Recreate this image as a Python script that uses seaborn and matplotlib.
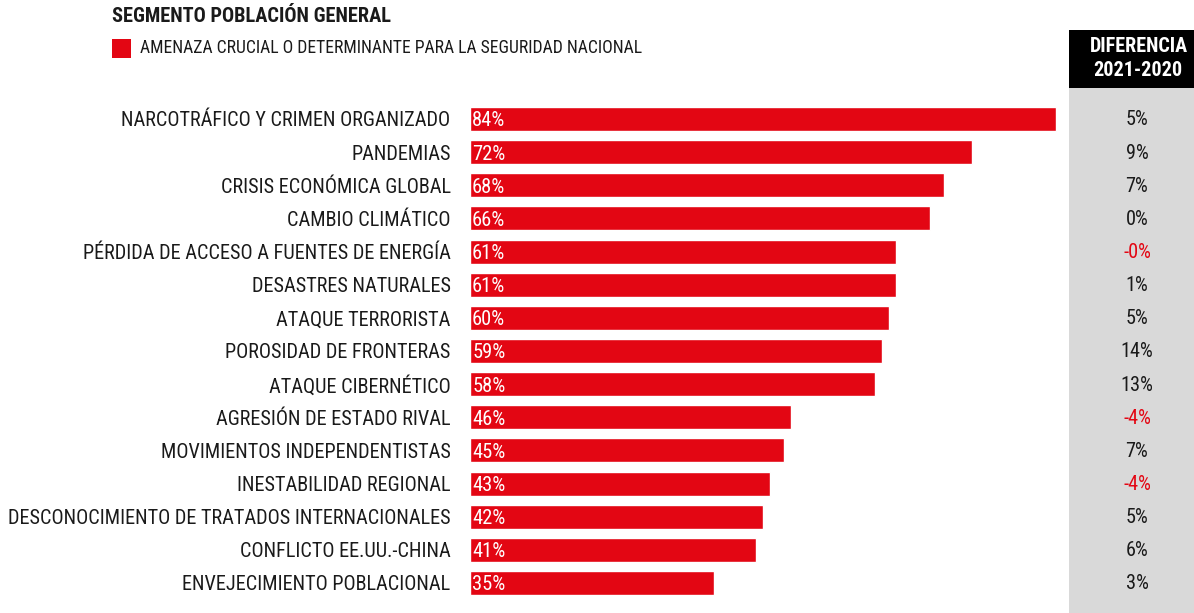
import matplotlib
matplotlib.use("Agg")
import matplotlib.pyplot as plt
import matplotlib.transforms as mtransforms
from matplotlib.patches import Rectangle
import seaborn as sns
import pandas as pd
from matplotlib import font_manager

categories = [
    "NARCOTRÁFICO Y CRIMEN ORGANIZADO", "PANDEMIAS", "CRISIS ECONÓMICA GLOBAL",
    "CAMBIO CLIMÁTICO", "PÉRDIDA DE ACCESO A FUENTES DE ENERGÍA", "DESASTRES NATURALES",
    "ATAQUE TERRORISTA", "POROSIDAD DE FRONTERAS", "ATAQUE CIBERNÉTICO",
    "AGRESIÓN DE ESTADO RIVAL", "MOVIMIENTOS INDEPENDENTISTAS", "INESTABILIDAD REGIONAL",
    "DESCONOCIMIENTO DE TRATADOS INTERNACIONALES", "CONFLICTO EE.UU.-CHINA",
    "ENVEJECIMIENTO POBLACIONAL",
]
values = [84, 72, 68, 66, 61, 61, 60, 59, 58, 46, 45, 43, 42, 41, 35]
diff_labels = ["5%", "9%", "7%", "0%", "-0%", "1%", "5%", "14%", "13%", "-4%", "7%", "-4%", "5%", "6%", "3%"]

names = {f.name for f in font_manager.fontManager.ttflist}
fam = next((f for f in ["Roboto Condensed", "Archivo Narrow", "PT Sans Narrow", "Liberation Sans"] if f in names))

sns.set_theme(style="white")
plt.rcParams["font.family"] = [fam, "DejaVu Sans"]

RED = "#E30613"
TXT = "#1a1a1a"
W, H = 1194, 613
fig = plt.figure(figsize=(W / 100, H / 100), dpi=100)

px_per = (1056 - 470) / 84.0
ax_left, ax_right = 470, 1069
top_c, bot_c = 119, 583
step = (bot_c - top_c) / 14
ax_top = top_c - step / 2
ax_bot = bot_c + step / 2
ax = fig.add_axes([ax_left / W, 1 - ax_bot / H, (ax_right - ax_left) / W, (ax_bot - ax_top) / H])
ax.patch.set_alpha(0)

df = pd.DataFrame({"cat": categories, "val": values})
sns.barplot(data=df, x="val", y="cat", color=RED, saturation=1, width=0.72, ax=ax, orient="h")
ax.set_xlim(0, (ax_right - ax_left) / px_per)
ax.set_ylim(len(categories) - 0.5, -0.5)
ax.set_xlabel("")
ax.set_ylabel("")
ax.set_xticks([])
for s in ax.spines.values():
    s.set_visible(False)
ax.tick_params(axis="y", length=0, pad=14, labelsize=14.6)
for lbl in ax.get_yticklabels():
    lbl.set_color(TXT)

for i, v in enumerate(values):
    ax.text(0.3, i + 0.06, f"{v}%", color="white", fontsize=14.8, va="center", ha="left")

# gray column and header
fig.patches.append(Rectangle((1069 / W, 0), (W - 1069) / W, 1 - 88 / H, transform=fig.transFigure,
                             facecolor="#D9D9D9", edgecolor="none", zorder=-2))
fig.patches.append(Rectangle((1069 / W, 1 - 88 / H), (W - 1069) / W, 58 / H, transform=fig.transFigure,
                             facecolor="black", edgecolor="none", zorder=-2))
fig.text(1139 / W, 1 - 47 / H, "DIFERENCIA", color="white", fontsize=14.5, fontweight="bold", ha="center", va="center")
fig.text(1138 / W, 1 - 71 / H, "2021-2020", color="white", fontsize=14.5, fontweight="bold", ha="center", va="center")

trans = mtransforms.blended_transform_factory(fig.transFigure, ax.transData)
for i, d in enumerate(diff_labels):
    col = RED if d.startswith("-") else TXT
    ax.text(1137 / W, i + 0.03, d, transform=trans, ha="center", va="center", fontsize=14.6, color=col, clip_on=False)

# title and legend
fig.text(112 / W, 1 - 17 / H, "SEGMENTO POBLACIÓN GENERAL", fontsize=14.7, fontweight="bold", color=TXT,
         ha="left", va="center")
fig.patches.append(Rectangle((112 / W, 1 - 58 / H), 19 / W, 19 / H, transform=fig.transFigure,
                             facecolor=RED, edgecolor="none"))
fig.text(140 / W, 1 - 48 / H, "AMENAZA CRUCIAL O DETERMINANTE PARA LA SEGURIDAD NACIONAL", fontsize=12.7,
         color=TXT, ha="left", va="center")

fig.savefig("out.png", dpi=100)
